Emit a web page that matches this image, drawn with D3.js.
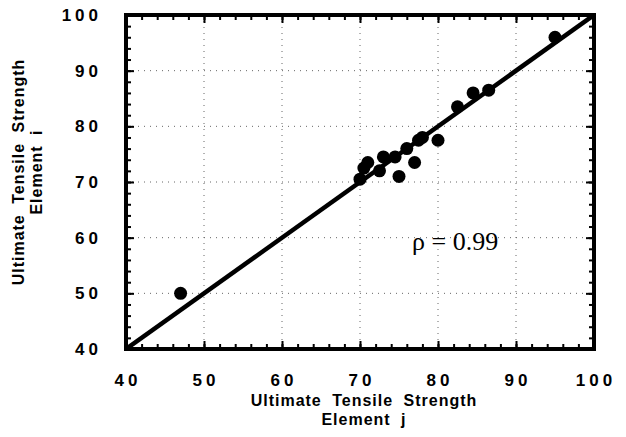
<!DOCTYPE html>
<html>
<head>
<meta charset="utf-8">
<script src="https://cdn.jsdelivr.net/npm/d3@7"></script>
<style>
  body { margin: 0; background: #fff; }
  svg { display: block; }
</style>
</head>
<body>
<script>
// ---- data ----
const xValues = [47, 70, 70.5, 71, 72.5, 73, 74.5, 75, 76, 77, 77.5, 78, 80, 82.5, 84.5, 86.5, 95];
const yValues = [50, 70.5, 72.5, 73.5, 72, 74.5, 74.5, 71, 76, 73.5, 77.5, 78, 77.5, 83.5, 86, 86.5, 96];
const fitX = [40, 100];
const fitY = [40, 100];
const tickValues = [40, 50, 60, 70, 80, 90, 100];
const xTitle = ["Ultimate Tensile Strength", "Element j"];
const yTitle = ["Ultimate Tensile Strength", "Element i"];
const annotation = "ρ = 0.99";

const W = 626, H = 437;
const pL = 126, pR = 594, pT = 15, pB = 349;

const svg = d3.select("body").append("svg").attr("width", W).attr("height", H);
const x = d3.scaleLinear().domain([40, 100]).range([pL, pR]);
const y = d3.scaleLinear().domain([40, 100]).range([pB, pT]);

const font = "'Liberation Sans', Arial, Helvetica, sans-serif";

// grid (dotted)
const grid = svg.append("g").attr("stroke", "#666").attr("stroke-width", 1).attr("stroke-dasharray", "1,5");
grid.selectAll("line.v").data(tickValues.slice(1, -1)).join("line").attr("class", "v")
  .attr("x1", d => x(d)).attr("x2", d => x(d)).attr("y1", pT).attr("y2", pB);
grid.selectAll("line.h").data(tickValues.slice(1, -1)).join("line").attr("class", "h")
  .attr("y1", d => y(d)).attr("y2", d => y(d)).attr("x1", pL).attr("x2", pR);

// minor/major inward ticks via axes
const minor = d3.range(40, 101, 2);
function styleAxis(g) {
  g.select(".domain").remove();
  g.selectAll(".tick line").attr("stroke", "#000").attr("stroke-width", 2);
  g.selectAll("text").remove();
}
const majLen = 8, minLen = 5;
[[d3.axisTop(x), `translate(0,${pB})`],
 [d3.axisBottom(x), `translate(0,${pT})`],
 [d3.axisRight(y), `translate(${pL},0)`],
 [d3.axisLeft(y), `translate(${pR},0)`]].forEach(([ax, tr]) => {
  svg.append("g").attr("transform", tr)
    .call(ax.tickValues(minor).tickSize(minLen).tickFormat(""))
    .call(styleAxis);
  svg.append("g").attr("transform", tr)
    .call(ax.tickValues(tickValues).tickSize(majLen).tickFormat(""))
    .call(styleAxis);
});

// fit line
svg.append("clipPath").attr("id", "clip").append("rect")
  .attr("x", pL).attr("y", pT).attr("width", pR - pL).attr("height", pB - pT);
svg.append("line")
  .attr("clip-path", "url(#clip)")
  .attr("x1", x(fitX[0])).attr("y1", y(fitY[0]))
  .attr("x2", x(fitX[1])).attr("y2", y(fitY[1]))
  .attr("stroke", "#000").attr("stroke-width", 4.5);

// points
svg.append("g").selectAll("circle").data(xValues.map((v, i) => [v, yValues[i]])).join("circle")
  .attr("cx", d => x(d[0])).attr("cy", d => y(d[1])).attr("r", 6.5).attr("fill", "#000");

// frame
svg.append("rect").attr("x", pL).attr("y", pT).attr("width", pR - pL).attr("height", pB - pT)
  .attr("fill", "none").attr("stroke", "#000").attr("stroke-width", 4);

// tick labels
svg.append("g").selectAll("text").data(tickValues).join("text")
  .attr("x", d => x(d) + 2).attr("y", pB + 37)
  .attr("text-anchor", "middle")
  .attr("font-family", font).attr("font-weight", "bold").attr("font-size", 17)
  .attr("letter-spacing", 4)
  .text(d => d);
svg.append("g").selectAll("text").data(tickValues).join("text")
  .attr("x", pL - 24).attr("y", d => y(d) + 6)
  .attr("text-anchor", "end")
  .attr("font-family", font).attr("font-weight", "bold").attr("font-size", 17)
  .attr("letter-spacing", 4)
  .text(d => d);

// axis titles
svg.append("g").selectAll("text").data(xTitle).join("text")
  .attr("x", 364).attr("y", (d, i) => 406 + i * 19)
  .attr("text-anchor", "middle")
  .attr("font-family", font).attr("font-weight", "bold").attr("font-size", 16)
  .attr("letter-spacing", 1).attr("word-spacing", 5)
  .text(d => d);
svg.append("g").selectAll("text").data(yTitle).join("text")
  .attr("transform", (d, i) => `translate(${24 + i * 18},${172}) rotate(-90)`)
  .attr("text-anchor", "middle")
  .attr("font-family", font).attr("font-weight", "bold").attr("font-size", 16)
  .attr("letter-spacing", 1).attr("word-spacing", 5)
  .text(d => d);

// annotation
svg.append("text").attr("x", 412).attr("y", 250)
  .attr("font-family", "'Liberation Serif', 'Times New Roman', serif").attr("font-size", 26)
  .text(annotation);
</script>
</body>
</html>
